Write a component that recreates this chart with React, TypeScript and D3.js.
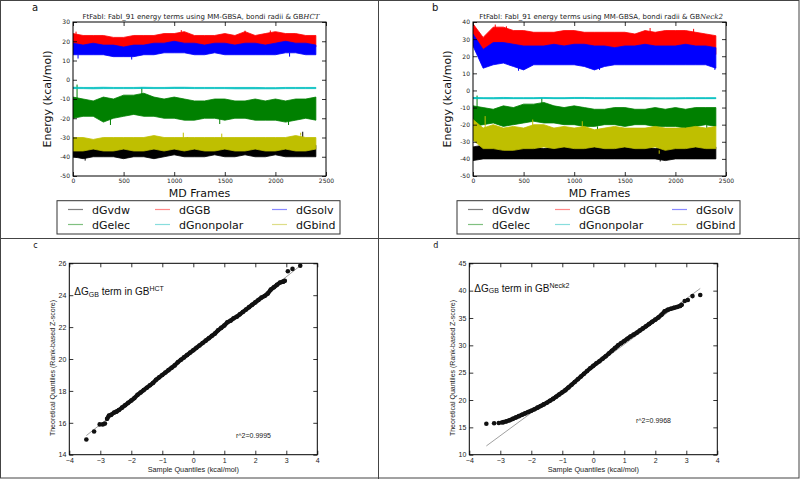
import React, { useEffect, useRef } from "react";
import * as d3 from "d3";

const W = 800, H = 479;

// frame positions at which the band edges were read (every 100 frames)
const frames = [0, 100, 200, 300, 400, 500, 600, 700, 800, 900, 1000, 1100, 1200, 1300, 1400, 1500, 1600, 1700, 1800, 1900, 2000, 2100, 2200, 2300, 2400];
const frameTicks = [0, 500, 1000, 1500, 2000, 2500];

// legend order (matplotlib fills columns first)
const seriesNames = ["dGvdw", "dGelec", "dGGB", "dGnonpolar", "dGsolv", "dGbind"];
const seriesColors = ["#000000", "#008000", "#ff0000", "#00bfbf", "#0000ff", "#bfbf00"];
const legendColors = ["#808080", "#80c080", "#ff8888", "#88dddd", "#8888ff", "#dddd88"];

// ---- panel a : GB HCT, upper / lower envelope of each noisy trace
const hctVdwHi = [-34, -34, -33, -34, -33, -34, -33, -33, -34, -33, -33, -34, -33, -33, -33, -33, -34, -33, -33, -32, -33, -33, -31, -33, -34];
const hctVdwLo = [-40, -41, -40, -40, -40, -41, -40, -40, -41, -40, -39, -40, -40, -40, -39, -40, -40, -39, -40, -40, -39, -40, -40, -40, -40];
const hctElecHi = [-9, -10, -11, -9, -10, -8, -8, -7, -9, -10, -9, -10, -11, -11, -10, -10, -11, -11, -10, -11, -10, -11, -10, -10, -9];
const hctElecLo = [-20, -19, -19, -22, -20, -19, -18, -19, -19, -20, -20, -21, -21, -20, -20, -21, -20, -20, -21, -21, -21, -22, -21, -20, -21];
const hctGBHi = [24, 23, 23, 23, 22, 22, 23, 23, 23, 24, 24, 25, 23, 23, 23, 24, 23, 25, 23, 24, 25, 24, 24, 23, 23];
const hctGBLo = [17, 17, 17, 17, 16, 17, 16, 16, 17, 18, 18, 18, 17, 17, 18, 17, 17, 17, 17, 17, 17, 18, 18, 17, 17];
const hctNonpolarHi = [-3.9, -4.0, -4.0, -3.9, -4.0, -4.0, -4.0, -3.9, -4.0, -4.0, -3.9, -3.9, -4.0, -4.0, -4.0, -4.0, -4.0, -4.0, -4.0, -4.1, -4.1, -4.0, -4.0, -4.0, -4.0];
const hctNonpolarLo = [-4.6, -4.6, -4.7, -4.6, -4.6, -4.6, -4.6, -4.5, -4.6, -4.6, -4.5, -4.5, -4.6, -4.6, -4.6, -4.6, -4.7, -4.7, -4.7, -4.7, -4.7, -4.6, -4.6, -4.6, -4.6];
const hctSolvHi = [19, 18, 19, 18, 18, 17, 18, 18, 19, 19, 20, 19, 19, 18, 19, 19, 18, 19, 19, 18, 19, 20, 19, 19, 18];
const hctSolvLo = [13, 13, 13, 13, 12, 12, 12, 13, 13, 14, 14, 14, 13, 13, 14, 13, 13, 13, 13, 13, 13, 14, 14, 13, 13];
const hctBindHi = [-30, -30, -31, -30, -30, -30, -30, -30, -29, -30, -30, -30, -30, -30, -30, -30, -30, -30, -30, -30, -30, -30, -29, -30, -30];
const hctBindLo = [-37, -37, -36, -37, -37, -36, -37, -37, -36, -37, -36, -37, -36, -37, -37, -36, -37, -37, -36, -37, -37, -36, -37, -37, -36];
// isolated spikes: [series index, frame, base, tip]
const hctSpikes = [[1, 40, -10, -2.5], [1, 680, -9, -4], [1, 370, -20, -23.5], [1, 1450, -20, -23], [1, 2130, -21, -23.5],
  [0, 2270, -33, -27], [0, 1130, -33, -30], [0, 120, -40, -42],
  [4, 50, 13, 11], [4, 580, 12, 10.5], [4, 2140, 14, 12],
  [2, 1070, 24, 25.8], [2, 1700, 24, 25.5], [2, 1950, 24, 25.6], [2, 30, 23, 25],
  [5, 1090, -30, -27.5], [5, 1470, -30, -28], [5, 2250, -29, -27.5]];

// ---- panel b : GB Neck2
const neckVdwHi = [-33, -32, -33, -33, -33, -34, -33, -34, -33, -32, -33, -33, -33, -34, -33, -33, -34, -33, -34, -33, -32, -32, -33, -33, -33];
const neckVdwLo = [-41, -40, -40, -40, -40, -40, -40, -40, -40, -40, -40, -40, -40, -40, -40, -40, -40, -40, -40, -41, -40, -40, -40, -40, -40];
const neckElecHi = [-9, -10, -11, -9, -10, -8, -8, -7, -9, -10, -9, -10, -11, -11, -10, -10, -11, -11, -10, -11, -10, -11, -10, -10, -10];
const neckElecLo = [-21, -20, -19, -21, -20, -19, -18, -19, -19, -20, -20, -21, -21, -20, -20, -21, -20, -20, -21, -21, -21, -22, -21, -20, -21];
const neckGBHi = [39, 31, 37, 37, 35, 35, 34, 34, 34, 35, 35, 34, 34, 34, 34, 34, 33, 35, 34, 35, 35, 35, 34, 33, 32];
const neckGBLo = [30, 18, 19, 22, 21, 21, 21, 21, 21, 22, 23, 21, 21, 21, 22, 22, 21, 22, 21, 21, 22, 22, 22, 22, 21];
const neckNonpolarHi = [-4.1, -4.2, -4.2, -4.1, -4.2, -4.2, -4.2, -4.1, -4.2, -4.2, -4.1, -4.1, -4.2, -4.2, -4.2, -4.2, -4.2, -4.2, -4.3, -4.3, -4.3, -4.2, -4.2, -4.2, -4.2];
const neckNonpolarLo = [-4.8, -4.8, -4.9, -4.8, -4.8, -4.8, -4.8, -4.7, -4.8, -4.8, -4.7, -4.7, -4.8, -4.8, -4.8, -4.8, -4.9, -4.9, -4.9, -4.9, -4.9, -4.8, -4.8, -4.8, -4.8];
const neckSolvHi = [33, 24, 28, 28, 27, 26, 26, 26, 27, 26, 27, 27, 26, 26, 25, 26, 26, 27, 26, 26, 26, 27, 26, 26, 25];
const neckSolvLo = [26, 13, 15, 16, 14, 12, 15, 15, 15, 15, 15, 14, 12, 14, 15, 15, 15, 15, 15, 15, 15, 15, 15, 15, 13];
const neckBindHi = [-17, -22, -20, -22, -21, -22, -20, -20, -22, -21, -22, -21, -23, -22, -21, -22, -22, -22, -21, -22, -22, -22, -21, -22, -21];
const neckBindLo = [-29, -34, -34, -35, -35, -34, -34, -33, -34, -33, -34, -34, -33, -34, -34, -33, -34, -34, -33, -35, -34, -34, -33, -34, -34];
const neckSpikes = [[1, 40, -10, -3], [1, 680, -9, -4.5], [1, 1230, -21, -23], [1, 2310, -20, -22.5],
  [2, 220, 35, 38.5], [2, 330, 35, 37.5], [2, 1750, 34, 36.5], [2, 2180, 34, 36],
  [4, 450, 15, 11.5], [4, 1250, 14, 12], [4, 2390, 14, 12],
  [5, 120, -22, -15], [5, 590, -21, -17], [5, 1080, -22, -18], [5, 1840, -35, -37],
  [0, 2080, -33, -30.5], [0, 1850, -40, -41.5]];

const hctYTicks = [-50, -40, -30, -20, -10, 0, 10, 20, 30];
const neckYTicks = [-50, -40, -30, -20, -10, 0, 10, 20, 30, 40];

// ---- panels c / d : Q-Q plots of dGGB
const qqXTicks = [-4, -3, -2, -1, 0, 1, 2, 3, 4];
const hctQQYTicks = [14, 16, 18, 20, 22, 24, 26];
const neckQQYTicks = [10, 15, 20, 25, 30, 35, 40, 45];

// isolated points in the tails
const hctTailX = [-3.45, -3.2, -3.02, -2.92, -2.85, 3.05, 3.2, 3.45];
const hctTailY = [14.95, 15.45, 15.9, 15.9, 15.95, 25.5, 25.65, 25.85];
// dense run of points
const hctQQx = [-2.78, -2.72, -2.65, -2.55, -2.48,
  -2.4, -2.3, -2.2, -2.1, -2.0, -1.9, -1.8, -1.7, -1.6, -1.5, -1.4, -1.3, -1.2, -1.1, -1.0,
  -0.9, -0.8, -0.7, -0.6, -0.5, -0.4, -0.3, -0.2, -0.1, 0, 0.1, 0.2, 0.3, 0.4, 0.5, 0.6,
  0.7, 0.8, 0.9, 1.0, 1.1, 1.2, 1.3, 1.4, 1.5, 1.6, 1.7, 1.8, 1.9, 2.0, 2.1, 2.2, 2.3,
  2.4, 2.5, 2.6, 2.7, 2.8, 2.9, 2.95];
const hctQQy = [16.25, 16.45, 16.5, 16.65, 16.7,
  16.8, 16.95, 17.1, 17.25, 17.4, 17.55, 17.75, 17.9, 18.05, 18.2, 18.35, 18.5, 18.7, 18.85, 19.0,
  19.15, 19.3, 19.45, 19.6, 19.8, 19.95, 20.1, 20.25, 20.4, 20.55, 20.7, 20.85, 21.0, 21.15, 21.3, 21.45,
  21.6, 21.8, 21.95, 22.1, 22.3, 22.4, 22.55, 22.65, 22.8, 22.95, 23.1, 23.25, 23.4, 23.55, 23.7, 23.85, 23.95,
  24.1, 24.35, 24.5, 24.65, 24.8, 24.85, 24.9];
const hctFitX = [-3.45, 3.45];
const hctFitY = [15.2, 25.85];

const neckTailX = [-3.45, -3.2, -3.05, -2.95, 2.95, 3.05, 3.2, 3.45];
const neckTailY = [15.65, 15.75, 15.8, 15.9, 38.1, 38.3, 39.0, 39.2];
const neckQQx = [-2.9, -2.8, -2.7, -2.6, -2.5, -2.4, -2.3, -2.2, -2.1, -2.0, -1.9, -1.8, -1.7, -1.6, -1.5,
  -1.4, -1.3, -1.2, -1.1, -1.0, -0.9, -0.8, -0.7, -0.6, -0.5, -0.4, -0.3, -0.2, -0.1, 0,
  0.1, 0.2, 0.3, 0.4, 0.5, 0.6, 0.7, 0.8, 0.9, 1.0, 1.1, 1.2, 1.3, 1.4, 1.5, 1.6, 1.7,
  1.8, 1.9, 2.0, 2.1, 2.2, 2.3, 2.4, 2.5, 2.6, 2.7, 2.8, 2.85];
const neckQQy = [15.95, 16.1, 16.3, 16.55, 16.8, 17.05, 17.3, 17.55, 17.8, 18.05, 18.3, 18.6, 18.9, 19.2, 19.5,
  19.85, 20.2, 20.6, 21.0, 21.4, 21.8, 22.3, 22.8, 23.3, 23.8, 24.3, 24.8, 25.3, 25.8, 26.25,
  26.7, 27.1, 27.55, 28.0, 28.5, 29.0, 29.5, 30.0, 30.4, 30.8, 31.2, 31.6, 31.95, 32.3, 32.7, 33.1, 33.5,
  33.9, 34.3, 34.7, 35.1, 35.6, 36.2, 36.5, 36.7, 36.85, 37.0, 37.2, 37.4];
const neckFitX = [-3.45, 3.45];
const neckFitY = [11.6, 40.4];

const MPL = "'DejaVu Sans', sans-serif";
const ARIAL = "'Liberation Sans', Arial, sans-serif";

type Sel = d3.Selection<SVGGElement, unknown, null, undefined>;

function drawAxes(g: Sel, x: any, y: any, xTicks: number[], yTicks: number[], font: string, fs: number, fmt: (d: any) => string) {
  const [x0, x1] = x.range();
  const [y0, y1] = y.range();
  const style = (a: any) => {
    a.select(".domain").remove();
    a.selectAll(".tick line").attr("stroke", "#000").attr("stroke-width", 0.8);
    a.selectAll(".tick text").attr("font-family", font).attr("font-size", fs).attr("fill", "#222");
  };
  g.append("g").attr("transform", `translate(0,${y0})`)
    .call(d3.axisBottom(x).tickValues(xTicks).tickSize(-4).tickPadding(3).tickFormat(fmt)).call(style);
  g.append("g").attr("transform", `translate(0,${y1})`)
    .call(d3.axisTop(x).tickValues(xTicks).tickSize(-4).tickFormat(() => "")).call(style);
  g.append("g").attr("transform", `translate(${x0},0)`)
    .call(d3.axisLeft(y).tickValues(yTicks).tickSize(-4).tickPadding(3).tickFormat(fmt)).call(style);
  g.append("g").attr("transform", `translate(${x1},0)`)
    .call(d3.axisRight(y).tickValues(yTicks).tickSize(-4).tickFormat(() => "")).call(style);
  g.append("rect").attr("x", x0).attr("y", y1).attr("width", x1 - x0).attr("height", y0 - y1)
    .attr("fill", "none").attr("stroke", "#000").attr("stroke-width", 1);
}

function drawEnergy(g: Sel, left: number, yDomain: number[], yTicks: number[], his: number[][], los: number[][], spikes: number[][], title: string, mathTail: string, letter: string) {
  const x = d3.scaleLinear().domain([0, 2500]).range([left, left + 253]);
  const y = d3.scaleLinear().domain(yDomain).range([176, 22]);
  const clipId = "clip" + letter;
  g.append("clipPath").attr("id", clipId).append("rect")
    .attr("x", left).attr("y", 22).attr("width", 253).attr("height", 154);
  const plot = g.append("g").attr("clip-path", `url(#${clipId})`);
  his.forEach((hi, s) => {
    const lo = los[s];
    const area = d3.area<number>()
      .x((_, i) => x(frames[i]))
      .y0((_, i) => y(lo[i]))
      .y1((d) => y(d));
    plot.append("path").attr("d", area(hi) as string)
      .attr("fill", seriesColors[s]).attr("stroke", seriesColors[s]).attr("stroke-width", 0.8);
    spikes.filter((k) => k[0] === s).forEach((k) => {
      plot.append("line").attr("x1", x(k[1])).attr("x2", x(k[1]))
        .attr("y1", y(k[2])).attr("y2", y(k[3]))
        .attr("stroke", seriesColors[s]).attr("stroke-width", 1);
    });
  });
  drawAxes(g, x, y, frameTicks, yTicks, MPL, 6, (d) => String(d));

  const t = g.append("text").attr("x", left + 128).attr("y", 18.5).attr("text-anchor", "middle")
    .attr("font-family", MPL).attr("font-size", 7).attr("fill", "#222");
  t.append("tspan").text(title);
  t.append("tspan").attr("font-family", "'DejaVu Serif', serif").attr("font-style", "italic").text(mathTail);

  g.append("text").attr("x", left + 126.5).attr("y", 196.5).attr("text-anchor", "middle")
    .attr("font-family", MPL).attr("font-size", 11).attr("fill", "#111").text("MD Frames");
  g.append("text").attr("transform", `translate(${left - 22},99) rotate(-90)`).attr("text-anchor", "middle")
    .attr("font-family", MPL).attr("font-size", 11).attr("fill", "#111").text("Energy (kcal/mol)");
  g.append("text").attr("x", left - 41).attr("y", 11).attr("font-family", MPL).attr("font-size", 10)
    .attr("fill", "#111").text(letter);
}

function drawLegend(g: Sel, left: number) {
  const lx = left - 16;
  const legend = g.append("g");
  legend.append("rect").attr("x", lx).attr("y", 200.7).attr("width", 283).attr("height", 33.3)
    .attr("fill", "#fff").attr("stroke", "#333").attr("stroke-width", 1);
  const colX = [lx + 11, lx + 98, lx + 215];
  const rowY = [209.5, 224.5];
  legend.selectAll("rect.key").data(seriesNames).join("rect").attr("class", "key")
    .attr("x", (_, i) => colX[Math.floor(i / 2)])
    .attr("y", (_, i) => rowY[i % 2] - 0.6)
    .attr("width", 15).attr("height", 1.2)
    .attr("fill", (_, i) => legendColors[i]);
  legend.selectAll("text.lab").data(seriesNames).join("text").attr("class", "lab")
    .attr("x", (_, i) => colX[Math.floor(i / 2)] + 24)
    .attr("y", (_, i) => rowY[i % 2] + 4)
    .attr("font-family", MPL).attr("font-size", 11).attr("fill", "#111")
    .text((d) => d);
}

function drawQQ(g: Sel, left: number, yDomain: number[], yTicks: number[], xs: number[], ys: number[], tx: number[], ty: number[], fitX: number[], fitY: number[], sup: string, r2: string, r2Pos: number[], labelY: number, letter: string) {
  const x = d3.scaleLinear().domain([-4, 4]).range([left, left + 248]);
  const y = d3.scaleLinear().domain(yDomain).range([454.7, 263.3]);
  const fit = d3.line<number>().x((d) => x(d)).y((_, i) => y(fitY[i]));
  g.append("path").attr("d", fit(fitX) as string).attr("fill", "none")
    .attr("stroke", "#888").attr("stroke-width", 0.8);
  // the dense run of points overlaps into a thick continuous trail
  const trail = d3.line<number>().x((d) => x(d)).y((_, i) => y(ys[i]));
  g.append("path").attr("d", trail(xs) as string).attr("fill", "none")
    .attr("stroke", "#111").attr("stroke-width", 4.2).attr("stroke-linecap", "round").attr("stroke-linejoin", "round");
  g.append("g").selectAll("circle").data(xs).join("circle")
    .attr("cx", (d) => x(d)).attr("cy", (_, i) => y(ys[i])).attr("r", 2.3).attr("fill", "#111");
  g.append("g").selectAll("circle").data(tx).join("circle")
    .attr("cx", (d) => x(d)).attr("cy", (_, i) => y(ty[i])).attr("r", 2.3).attr("fill", "#111");
  drawAxes(g, x, y, qqXTicks, yTicks, ARIAL, 7, d3.format("d"));

  g.append("text").attr("x", left + 124).attr("y", 472).attr("text-anchor", "middle")
    .attr("font-family", ARIAL).attr("font-size", 7.3).attr("fill", "#222").text("Sample Quantiles (kcal/mol)");
  g.append("text").attr("transform", `translate(${left - 14.8},368) rotate(-90)`).attr("text-anchor", "middle")
    .attr("font-family", ARIAL).attr("font-size", 7).attr("fill", "#222").text("Theoretical Quantiles (Rank-based Z-score)");

  const lab = g.append("text").attr("x", left + 5).attr("y", labelY)
    .attr("font-family", ARIAL).attr("font-size", 10).attr("fill", "#111");
  lab.append("tspan").text("\u0394G");
  lab.append("tspan").attr("font-size", 7).attr("dy", 1.5).text("GB");
  lab.append("tspan").attr("dy", -1.5).text(" term in GB");
  lab.append("tspan").attr("font-size", 7).attr("dy", -4).text(sup);

  g.append("text").attr("x", r2Pos[0]).attr("y", r2Pos[1]).attr("font-family", ARIAL).attr("font-size", 7)
    .attr("fill", "#222").text(r2);
  g.append("text").attr("x", left - 36).attr("y", 248).attr("font-family", MPL).attr("font-size", 8)
    .attr("fill", "#111").text(letter);
}

export default function App() {
  const ref = useRef<SVGSVGElement>(null);

  useEffect(() => {
    const svg = d3.select(ref.current);
    svg.selectAll("*").remove();
    const root = svg.append("g") as unknown as Sel;

    root.append("rect").attr("x", 0).attr("y", 0).attr("width", W).attr("height", H).attr("fill", "#fff");

    drawEnergy(root, 73, [-50, 30], hctYTicks,
      [hctVdwHi, hctElecHi, hctGBHi, hctNonpolarHi, hctSolvHi, hctBindHi],
      [hctVdwLo, hctElecLo, hctGBLo, hctNonpolarLo, hctSolvLo, hctBindLo],
      hctSpikes, "FtFabI: FabI_91 energy terms using MM-GBSA, bondi radii & GB", "HCT", "a");
    drawEnergy(root, 473, [-50, 40], neckYTicks,
      [neckVdwHi, neckElecHi, neckGBHi, neckNonpolarHi, neckSolvHi, neckBindHi],
      [neckVdwLo, neckElecLo, neckGBLo, neckNonpolarLo, neckSolvLo, neckBindLo],
      neckSpikes, "FtFabI: FabI_91 energy terms using MM-GBSA, bondi radii & GB", "Neck2", "b");

    drawQQ(root, 69.3, [14, 26], hctQQYTicks, hctQQx, hctQQy, hctTailX, hctTailY, hctFitX, hctFitY, "HCT", "r^2=0.9995", [236, 438], 295, "c");
    drawQQ(root, 469.3, [10, 45], neckQQYTicks, neckQQx, neckQQy, neckTailX, neckTailY, neckFitX, neckFitY, "Neck2", "r^2=0.9968", [636, 422.5], 291.5, "d");

    // panel frame lines
    const border = "#444";
    root.append("rect").attr("x", 0.5).attr("y", 0.5).attr("width", W - 1.5).attr("height", H - 1.5)
      .attr("fill", "none").attr("stroke", border).attr("stroke-width", 1);
    root.append("line").attr("x1", 378.5).attr("x2", 378.5).attr("y1", 0).attr("y2", H)
      .attr("stroke", border).attr("stroke-width", 1);
    root.append("line").attr("x1", 0).attr("x2", W).attr("y1", 238.5).attr("y2", 238.5)
      .attr("stroke", border).attr("stroke-width", 1);

    drawLegend(root, 73);
    drawLegend(root, 473);
  }, []);

  return (
    <svg ref={ref} width={W} height={H} style={{ position: "absolute", left: 0, top: 0, display: "block" }} />
  );
}
